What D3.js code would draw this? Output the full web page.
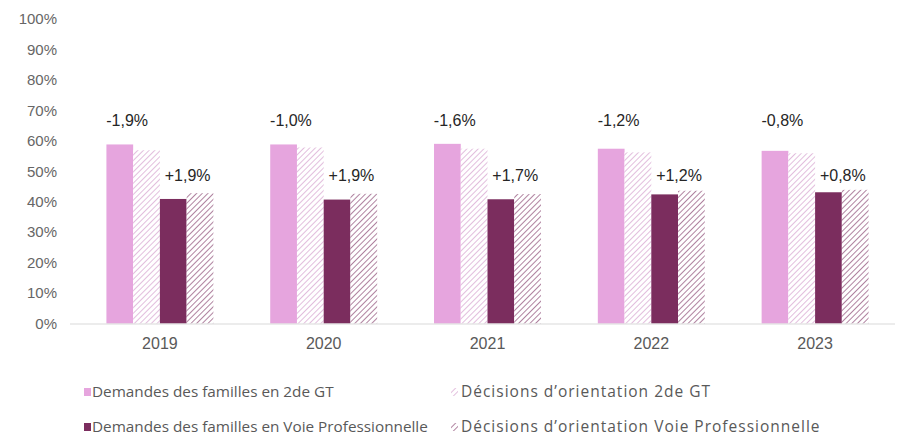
<!DOCTYPE html>
<html><head><meta charset="utf-8">
<script src="https://cdn.jsdelivr.net/npm/d3@7"></script>
<style>body{margin:0;background:#fff}svg{display:block}</style>
</head><body>
<svg id="c" width="897" height="436"></svg>
<script>
const years = ["2019","2020","2021","2022","2023"];
const seriesNames = ["Demandes des familles en 2de GT","Décisions d’orientation 2de GT","Demandes des familles en Voie Professionnelle","Décisions d’orientation Voie Professionnelle"];
const demandesGT = [58.8, 58.8, 59.0, 57.4, 56.7];
const decisionsGT = [56.9, 57.8, 57.4, 56.2, 55.9];
const demandesVP = [40.9, 40.7, 40.8, 42.4, 43.1];
const decisionsVP = [42.8, 42.6, 42.5, 43.6, 43.9];
const ecartGT = ["-1,9%","-1,0%","-1,6%","-1,2%","-0,8%"];
const ecartVP = ["+1,9%","+1,9%","+1,7%","+1,2%","+0,8%"];
const yTicks = [0,10,20,30,40,50,60,70,80,90,100];
const labelLevelGT = 66.7, labelLevelVP = 48.6;

const svg = d3.select("#c");
const defs = svg.append("defs");
function hatch(id, color, w){
  const p = defs.append("pattern").attr("id", id).attr("patternUnits","userSpaceOnUse")
    .attr("width",4).attr("height",4).attr("patternTransform","rotate(45)");
  p.append("rect").attr("width",4).attr("height",4).attr("fill","#fff");
  p.append("line").attr("x1",0).attr("y1",0).attr("x2",0).attr("y2",4)
    .attr("stroke",color).attr("stroke-width",w);
}
hatch("hGT","#d9a8d2",1.5);
hatch("hVP","#7a2f5f",1.2);
const fills = ["#e6a5de","url(#hGT)","#7b2d5e","url(#hVP)"];
const data = [demandesGT, decisionsGT, demandesVP, decisionsVP];

const x0 = d3.scaleBand().domain(years).range([78, 897]).paddingInner(0.347).paddingOuter(0.1735);
const x1 = d3.scaleBand().domain(d3.range(4)).range([0, x0.bandwidth()]);
const y = d3.scaleLinear().domain([0,100]).range([323.5, 19]);

// y axis labels
const yAxis = d3.axisLeft(y).tickValues(yTicks).tickFormat(d => d + "%").tickSize(0).tickPadding(0);
const ga = svg.append("g").attr("transform","translate(57,0)").call(yAxis);
ga.select(".domain").remove();
ga.selectAll("text").attr("fill","#666").style("font-family","Liberation Sans, Arial, sans-serif").style("font-size","15px");

// bars
const groups = svg.append("g").selectAll("g").data(years).join("g")
  .attr("transform", d => `translate(${x0(d)},0)`);
groups.selectAll("rect").data((yr, i) => data.map((s, k) => ({k, v: s[i]}))).join("rect")
  .attr("x", d => x1(d.k)).attr("width", x1.bandwidth())
  .attr("y", d => y(d.v)).attr("height", d => y(0) - y(d.v))
  .attr("fill", d => fills[d.k]);

// baseline
const xAxis = d3.axisBottom(x0).tickSize(0).tickPadding(14);
const gx = svg.append("g").attr("transform",`translate(0,${y(0)})`).call(xAxis);
gx.select(".domain").attr("stroke","#d9d9d9").attr("d","M76,0.5H895");
gx.selectAll("text").attr("fill","#595959").style("font-family","Liberation Sans, Arial, sans-serif").style("font-size","16px");
svg.append("line").attr("x1",70).attr("x2",76).attr("y1",y(0)+0.5).attr("y2",y(0)+0.5).attr("stroke","#d9d9d9");

// annotations
const lab = svg.append("g").style("font-family","Liberation Sans, Arial, sans-serif").style("font-size","16px").attr("fill","#262626").attr("text-anchor","middle");
lab.selectAll("text.gt").data(years).join("text").attr("class","gt")
  .attr("x", d => x0(d) + x1(1) - 6).attr("y", y(labelLevelGT)).attr("dy","0.35em")
  .text((d,i) => ecartGT[i]);
lab.selectAll("text.vp").data(years).join("text").attr("class","vp")
  .attr("x", d => x0(d) + x1(3) + 1).attr("y", y(labelLevelVP)).attr("dy","0.35em")
  .text((d,i) => ecartVP[i]);

// legend
const legPos = [[84,392],[451,392],[84,427],[451,427]];
const legFont = [15.3, 15.5, 15.3, 15.5];
const legSpace = [0, 1, 0, 1];
const leg = svg.append("g").selectAll("g").data(seriesNames).join("g")
  .attr("transform",(d,i)=>`translate(${legPos[i][0]},${legPos[i][1]})`);
leg.append("rect").attr("x",0).attr("y",-4).attr("width",7).attr("height",8).attr("fill",(d,i)=>fills[i]);
leg.append("text").attr("x",(d,i)=> i%2 ? 10 : 8).attr("dy","0.35em").text(d=>d)
  .attr("fill","#595959").style("font-family","Open Sans, sans-serif")
  .style("font-size",(d,i)=>legFont[i]+"px").style("letter-spacing",(d,i)=>legSpace[i]+"px");
</script>
</body></html>
